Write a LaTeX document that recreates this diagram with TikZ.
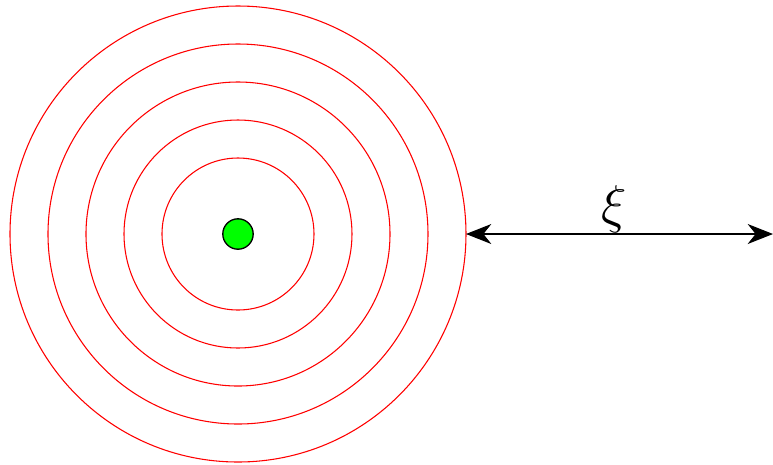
\documentclass[tikz,border=0pt]{standalone}
\usetikzlibrary{arrows.meta}
\definecolor{dotgreen}{RGB}{0,255,0}
\begin{document}
\begin{tikzpicture}[
  ring/.style={draw=red, line width=0.8pt},
  dotstyle/.style={circle, draw=black, fill=dotgreen, line width=1pt, minimum size=0.8cm, inner sep=0pt},
  dist/.style={line width=0.8pt, {Stealth[length=19pt,width=15pt,inset=6pt]}-{Stealth[length=19pt,width=15pt,inset=6pt]}}
]
\useasboundingbox (-6.263,-6.053) rectangle (14.079,6.158);
\foreach \r in {2,3,4,5,6} {\draw[ring] (0,0) circle (\r);}
\node[dotstyle] (dot) at (0,0) {};
\coordinate (a) at (6,0);
\coordinate (b) at (14.079,0);
\draw[dist] (a) -- (b);
\node[font=\Huge, scale=1.6, anchor=base, inner sep=0pt] (xi) at (9.9,0.3) {$\xi$};
\end{tikzpicture}
\end{document}
